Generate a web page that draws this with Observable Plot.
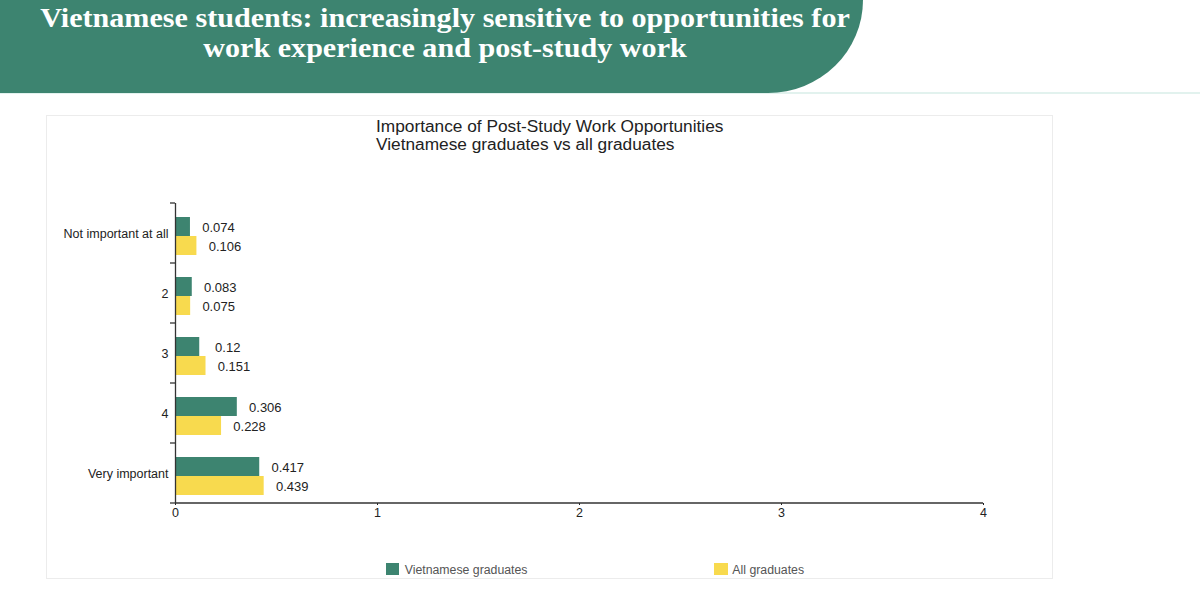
<!DOCTYPE html>
<html>
<head>
<meta charset="utf-8">
<script src="https://cdn.jsdelivr.net/npm/d3@7"></script>
<script src="https://cdn.jsdelivr.net/npm/@observablehq/plot@0.6"></script>
<style>
  body { margin: 0; width: 1200px; height: 609px; background: #fff; position: relative; overflow: hidden;
         font-family: "Liberation Sans", Arial, sans-serif; }
  #rule { position: absolute; left: 0; top: 92px; width: 1200px; height: 2px; background: #e2f2ee; }
  #band { position: absolute; left: 0; top: 0; width: 863px; height: 93px; background: #3d8470;
          border-bottom-right-radius: 95px 93px; }
  #title { position: absolute; left: 0; top: 3px; width: 890px; text-align: center; color: #fff;
           font-family: "Liberation Serif", "Times New Roman", serif; font-weight: bold;
           font-size: 27.5px; line-height: 30px; transform: scaleX(1.095); transform-origin: 445px 0; }
  #panel { position: absolute; left: 46px; top: 115px; width: 1007px; height: 464px; box-sizing: border-box;
           border: 1px solid #ececec; overflow: hidden; background: #fff; }
  #ctitle { position: absolute; left: 329px; top: 2px; font-size: 17.3px; line-height: 17.8px; color: #222; white-space: nowrap; }
  .sw { position: absolute; top: 447px; width: 13.5px; height: 12px; }
  .lt { position: absolute; top: 446.8px; font-size: 12.3px; line-height: 14px; color: #555; white-space: nowrap; }
  #chart { position: absolute; left: 47px; top: 160px; }
</style>
</head>
<body>
<div id="rule"></div>
<div id="band"></div>
<div id="title">Vietnamese students: increasingly sensitive to opportunities for<br>work experience and post-study work</div>
<div id="panel">
  <div id="ctitle">Importance of Post-Study Work Opportunities<br>Vietnamese graduates vs all graduates</div>
  <div class="sw" id="sw0" style="left:338.7px"></div>
  <div class="lt" id="lt0" style="left:357.7px"></div>
  <div class="sw" id="sw1" style="left:667px"></div>
  <div class="lt" id="lt1" style="left:685.3px"></div>
</div>
<div id="chart"></div>
<script>
const categories = ["Not important at all", "2", "3", "4", "Very important"];
const series = ["Vietnamese graduates", "All graduates"];
const vietnamese = [0.074, 0.083, 0.12, 0.306, 0.417];
const allGraduates = [0.106, 0.075, 0.151, 0.228, 0.439];
const xTicks = [0, 1, 2, 3, 4];
const colors = ["#3d8470", "#f8da4e"];

const rows = categories.flatMap((c, i) => [
  {category: c, series: series[0], value: vietnamese[i]},
  {category: c, series: series[1], value: allGraduates[i]}
]);

const plot = Plot.plot({
  width: 1006, height: 390,
  marginLeft: 128, marginRight: 70, marginTop: 42, marginBottom: 47,
  style: {fontFamily: '"Liberation Sans", Arial, sans-serif', fontSize: "12.5px", color: "#222", background: "transparent", overflow: "visible"},
  x: {domain: [0, 4], ticks: xTicks, tickFormat: d => String(d), tickSize: 2, tickPadding: 3, label: null},
  fy: {domain: categories, padding: 0, label: null, tickSize: 0, tickPadding: 7, axis: "left"},
  y: {domain: series, axis: null, paddingInner: 0, paddingOuter: 0.5625, align: 0.65},
  color: {domain: series, range: colors},
  marks: [
    Plot.barX(rows, {x: "value", y: "series", fy: "category", fill: "series"}),
    Plot.text(rows, {x: "value", y: "series", fy: "category", text: d => String(d.value),
                     dx: 28, dy: 1, textAnchor: "middle", fill: "#222", fontSize: 13}),
    Plot.ruleX([0], {stroke: "#333", strokeWidth: 1.3})
  ]
});

// axis line along the bottom and band-boundary ticks on the y axis, from Plot's scales
const xs = plot.scale("x"), fs = plot.scale("fy");
const svg = d3.select(plot);
const x0 = xs.apply(0), x1 = xs.apply(xTicks[xTicks.length - 1]);
const bottom = fs.apply(categories[categories.length - 1]) + fs.bandwidth;
svg.append("line").attr("x1", x0).attr("x2", x1).attr("y1", bottom).attr("y2", bottom)
  .attr("stroke", "#333").attr("stroke-width", 1.3);
categories.map(c => fs.apply(c)).concat([bottom]).forEach(y => {
  svg.append("line").attr("x1", x0 - 5).attr("x2", x0).attr("y1", y).attr("y2", y)
    .attr("stroke", "#333").attr("stroke-width", 1.3);
});

document.getElementById("chart").append(plot);

series.forEach((s, i) => {
  document.getElementById("sw" + i).style.background = colors[i];
  document.getElementById("lt" + i).textContent = s;
});
</script>
</body>
</html>
